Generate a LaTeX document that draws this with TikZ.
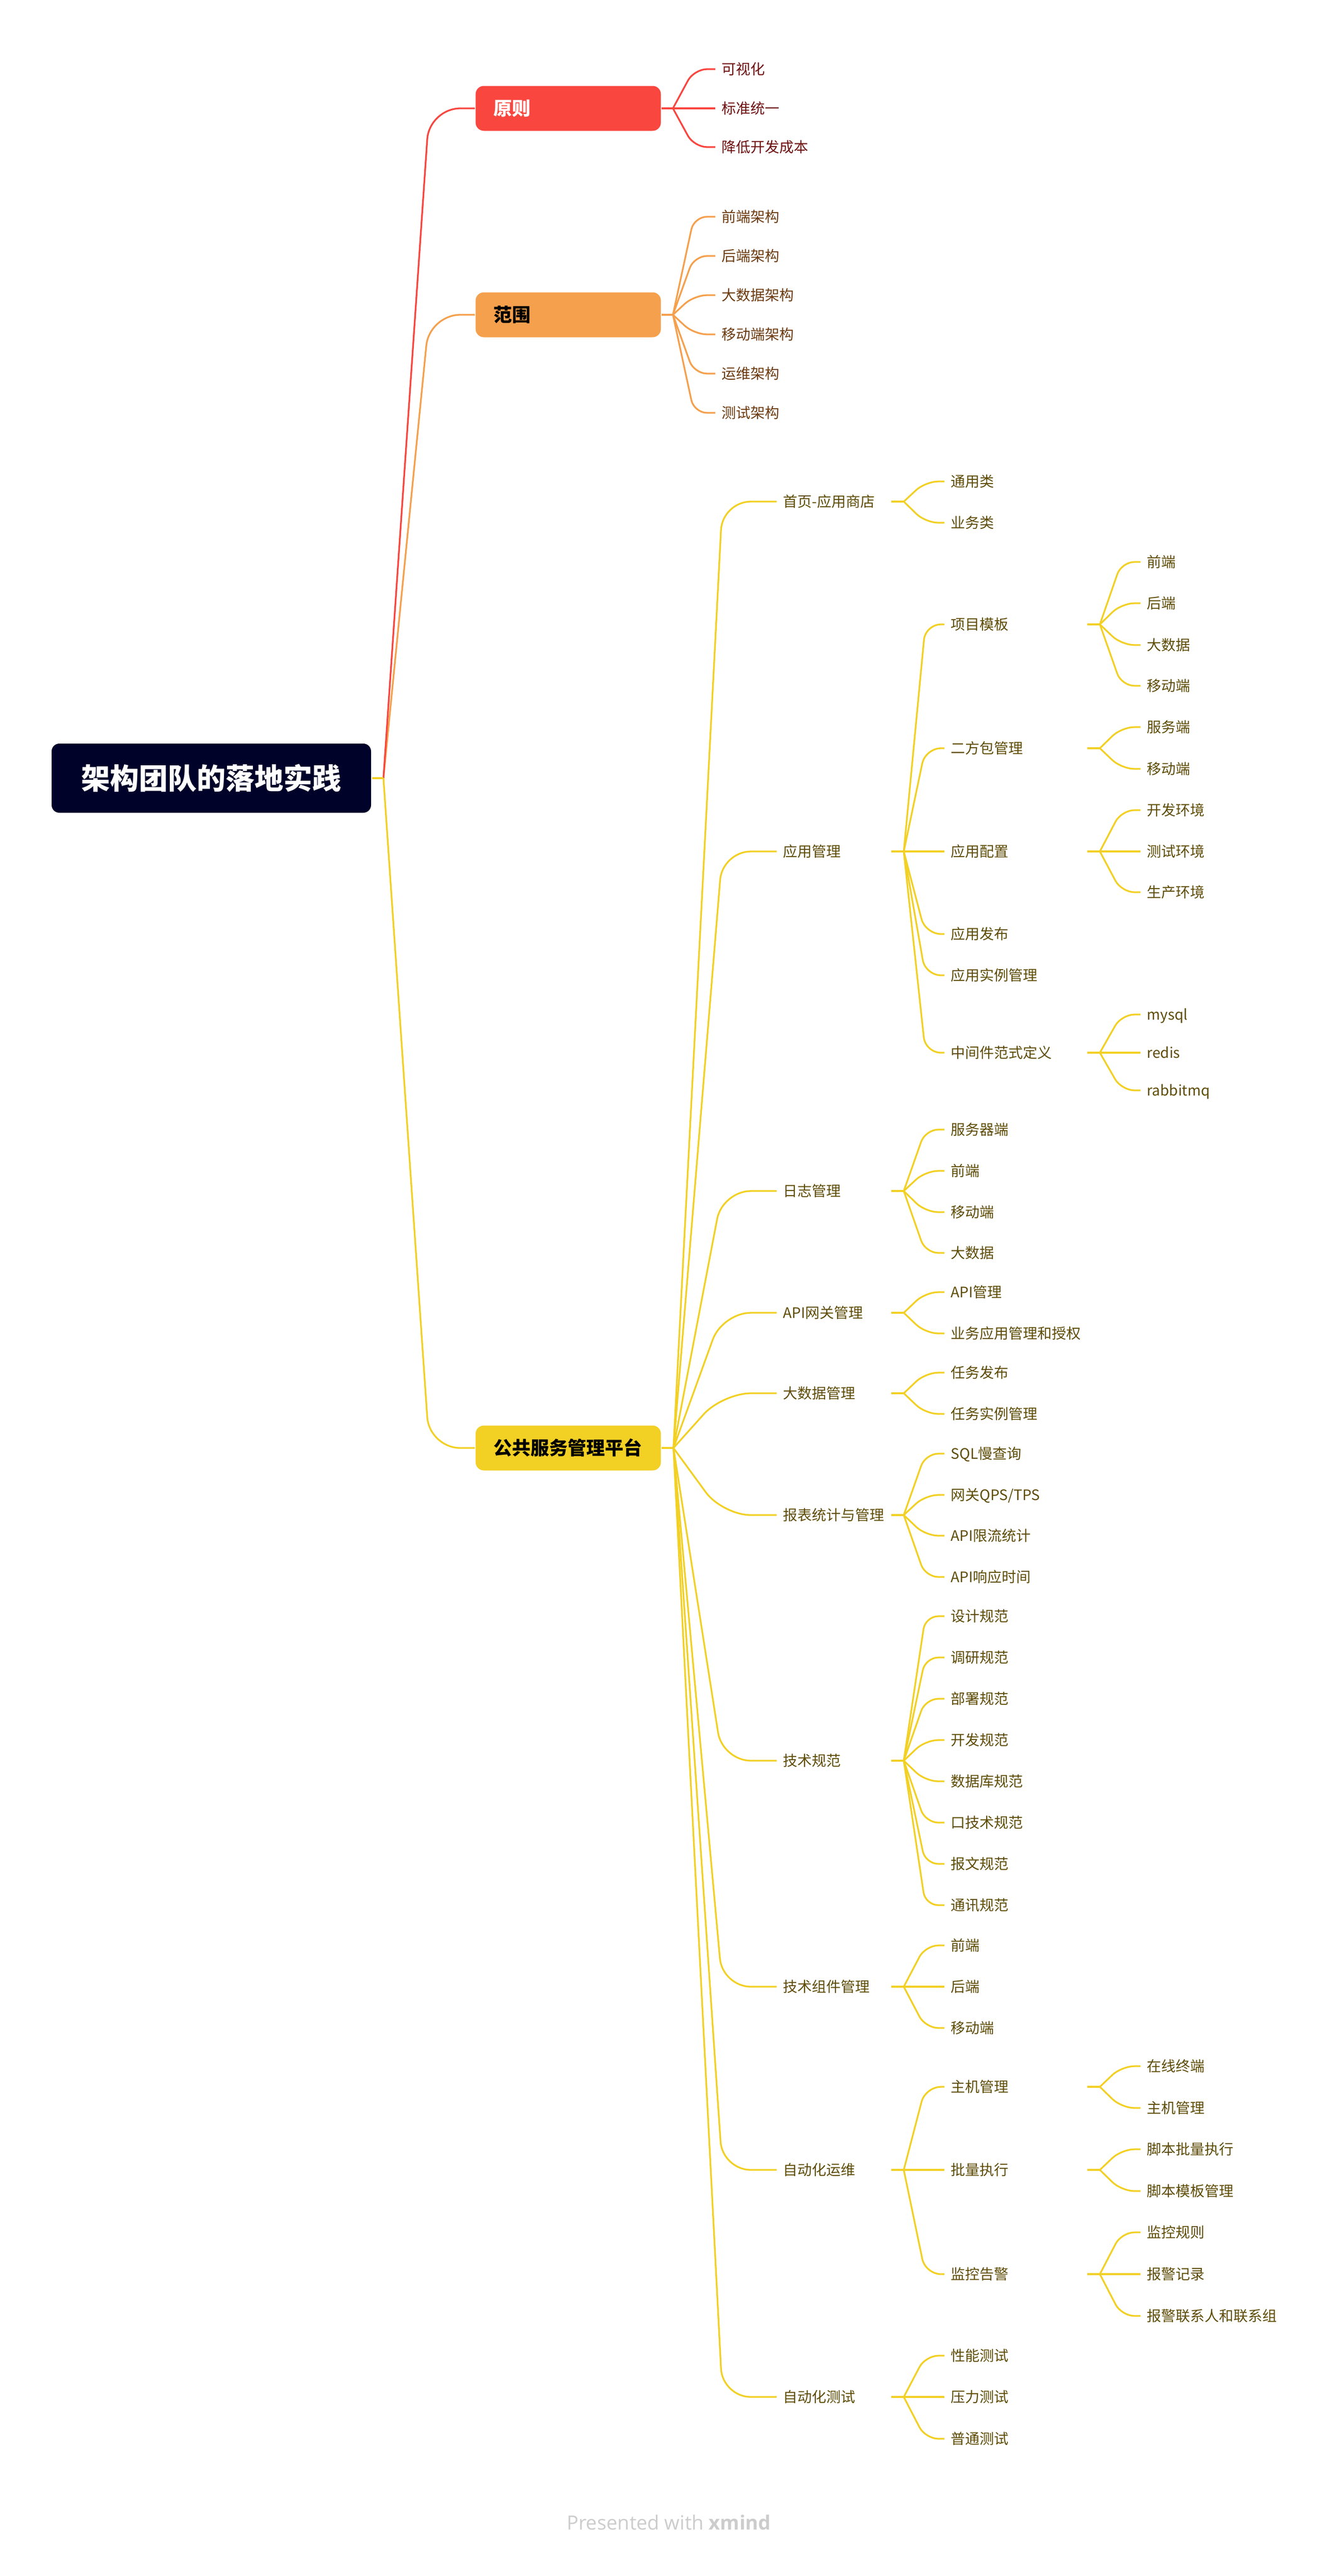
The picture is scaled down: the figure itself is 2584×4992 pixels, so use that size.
\documentclass[tikz,border=0pt]{standalone}
\usepackage{fontspec}
\newfontfamily\cjk{Noto Sans CJK SC}
\newfontfamily\footfont{Open Sans}
\usetikzlibrary{calc}
\definecolor{cRed}{HTML}{F9463F}
\definecolor{cOrange}{HTML}{F5A04D}
\definecolor{cYellow}{HTML}{F2D024}
\definecolor{cNavy}{HTML}{000229}
\definecolor{tRed}{HTML}{6E1010}
\definecolor{tOrange}{HTML}{6B3A0F}
\definecolor{tYellow}{HTML}{5E4C06}
\definecolor{cGrey}{HTML}{CCCCCC}
\newcommand\brn[4]{\draw[#1] (#2) -- (#3 |- #4.west) -- (#4.west);}
\begin{document}
\begin{tikzpicture}[x=1pt,y=-1pt,line width=3.3pt,
  rootbox/.style={fill=cNavy,rounded corners=15pt,minimum width=619pt,minimum height=134pt,inner sep=0pt,text=white,font=\cjk\bfseries\fontsize{56}{60}\selectfont,text height=47pt,text depth=4.4pt},
  topbox/.style={anchor=west,rounded corners=16pt,minimum height=87pt,text width=290pt,inner xsep=34.5pt,inner ysep=0pt,align=left,font=\cjk\bfseries\fontsize{36}{40}\selectfont,text height=30.2pt,text depth=2.8pt},
  leaf/.style={anchor=west,inner xsep=11pt,inner ysep=0pt,font=\cjk\fontsize{28}{32}\selectfont,text height=24pt,text depth=2.8pt},
  mid2/.style={leaf,text width=197pt,align=left},
  mid3/.style={leaf,text width=252pt,align=left},
  ly/.style={leaf,text=tYellow},
  ly2/.style={mid2,text=tYellow},
  ly3/.style={mid3,text=tYellow},
  wy/.style={cYellow,rounded corners=#1},
]
\fill[white] (0,0) rectangle (2584,4992);
\useasboundingbox (0,0) rectangle (2584,4992);

% root and level 1
\node[rootbox] (root) at (409.5,1508) {架构团队的落地实践};
\coordinate (F0) at (743,1508);
\coordinate (K0) at (832,1508);
\node[topbox,fill=cRed,text=white] (pa) at (920,210) {原则};
\node[topbox,fill=cOrange,text=black] (pb) at (920,610) {范围};
\node[topbox,fill=cYellow,text=black] (pc) at (920,2806) {公共服务管理平台};
\brn{cOrange,rounded corners=60pt}{F0}{K0}{pb}
\brn{cRed,rounded corners=60pt}{F0}{K0}{pa}
\brn{cYellow,rounded corners=60pt}{F0}{K0}{pc}
\draw[cYellow] (root.east) -- (F0);

% 原则
\coordinate (Fa) at (1304,210);
\coordinate (Ka) at (1345,210);
\draw[cRed] (pa.east) -- (Fa);
\node[leaf,text=tRed] (a1) at (1386,134) {可视化};
\node[leaf,text=tRed] (a2) at (1386,210) {标准统一};
\node[leaf,text=tRed] (a3) at (1386,285) {降低开发成本};
\foreach \n in {a1,a2,a3} {\brn{cRed,rounded corners=25pt}{Fa}{Ka}{\n}}

% 范围
\coordinate (Fb) at (1304,610);
\coordinate (Kb) at (1345,610);
\draw[cOrange] (pb.east) -- (Fb);
\node[leaf,text=tOrange] (b1) at (1386,420) {前端架构};
\node[leaf,text=tOrange] (b2) at (1386,496) {后端架构};
\node[leaf,text=tOrange] (b3) at (1386,572) {大数据架构};
\node[leaf,text=tOrange] (b4) at (1386,648) {移动端架构};
\node[leaf,text=tOrange] (b5) at (1386,724) {运维架构};
\node[leaf,text=tOrange] (b6) at (1386,800) {测试架构};
\foreach \n in {b1,b2,b3,b4,b5,b6} {\brn{cOrange,rounded corners=25pt}{Fb}{Kb}{\n}}

% 公共服务管理平台 level 2
\coordinate (Fc) at (1305,2806);
\coordinate (Kc) at (1400,2806);
\draw[cYellow] (pc.east) -- (Fc);
\node[ly2] (c1) at (1505,972) {首页-应用商店};
\node[ly2] (c2) at (1505,1650) {应用管理};
\node[ly2] (c3) at (1505,2308) {日志管理};
\node[ly2] (c4) at (1505,2544) {API网关管理};
\node[ly2] (c5) at (1505,2700) {大数据管理};
\node[ly2] (c6) at (1505,2936) {报表统计与管理};
\node[ly2] (c7) at (1505,3412) {技术规范};
\node[ly2] (c8) at (1505,3850) {技术组件管理};
\node[ly2] (c9) at (1505,4205) {自动化运维};
\node[ly2] (c10) at (1505,4645) {自动化测试};
\foreach \n in {c1,c2,c3,c4,c5,c6,c7,c8,c9,c10} {\brn{wy=55pt}{Fc}{Kc}{\n}}

% level 3 forks
\foreach \n in {c1,c2,c3,c4,c5,c6,c7,c8,c9,c10} {
  \coordinate (F\n) at ([xshift=24pt]\n.east);
  \coordinate (K\n) at ([xshift=66pt]\n.east);
  \draw[cYellow] (\n.east) -- (F\n);
}

% 首页-应用商店
\node[ly] (c1a) at (1830,933) {通用类};
\node[ly] (c1b) at (1830,1013) {业务类};
\foreach \n in {c1a,c1b} {\brn{wy=25pt}{Fc1}{Kc1}{\n}}

% 应用管理
\node[ly3] (c2a) at (1830,1210) {项目模板};
\node[ly3] (c2b) at (1830,1450) {二方包管理};
\node[ly3] (c2c) at (1830,1650) {应用配置};
\node[ly] (c2d) at (1830,1810) {应用发布};
\node[ly] (c2e) at (1830,1890) {应用实例管理};
\node[ly3] (c2f) at (1830,2040) {中间件范式定义};
\foreach \n in {c2a,c2b,c2c,c2d,c2e,c2f} {\brn{wy=30pt}{Fc2}{Kc2}{\n}}

% 日志管理
\node[ly] (c3a) at (1830,2189) {服务器端};
\node[ly] (c3b) at (1830,2269) {前端};
\node[ly] (c3c) at (1830,2349) {移动端};
\node[ly] (c3d) at (1830,2428) {大数据};
\foreach \n in {c3a,c3b,c3c,c3d} {\brn{wy=25pt}{Fc3}{Kc3}{\n}}

% API网关管理
\node[ly] (c4a) at (1830,2504) {API管理};
\node[ly] (c4b) at (1830,2584) {业务应用管理和授权};
\foreach \n in {c4a,c4b} {\brn{wy=25pt}{Fc4}{Kc4}{\n}}

% 大数据管理
\node[ly] (c5a) at (1830,2660) {任务发布};
\node[ly] (c5b) at (1830,2740) {任务实例管理};
\foreach \n in {c5a,c5b} {\brn{wy=25pt}{Fc5}{Kc5}{\n}}

% 报表统计与管理
\node[ly] (c6a) at (1830,2817) {SQL慢查询};
\node[ly] (c6b) at (1830,2897) {网关QPS/TPS};
\node[ly] (c6c) at (1830,2976) {API限流统计};
\node[ly] (c6d) at (1830,3056) {API响应时间};
\foreach \n in {c6a,c6b,c6c,c6d} {\brn{wy=25pt}{Fc6}{Kc6}{\n}}

% 技术规范
\node[ly] (c7a) at (1830,3132) {设计规范};
\node[ly] (c7b) at (1830,3212) {调研规范};
\node[ly] (c7c) at (1830,3292) {部署规范};
\node[ly] (c7d) at (1830,3372) {开发规范};
\node[ly] (c7e) at (1830,3452) {数据库规范};
\node[ly] (c7f) at (1830,3532) {口技术规范};
\node[ly] (c7g) at (1830,3612) {报文规范};
\node[ly] (c7h) at (1830,3692) {通讯规范};
\foreach \n in {c7a,c7b,c7c,c7d,c7e,c7f,c7g,c7h} {\brn{wy=25pt}{Fc7}{Kc7}{\n}}

% 技术组件管理
\node[ly] (c8a) at (1830,3770) {前端};
\node[ly] (c8b) at (1830,3850) {后端};
\node[ly] (c8c) at (1830,3930) {移动端};
\foreach \n in {c8a,c8b,c8c} {\brn{wy=25pt}{Fc8}{Kc8}{\n}}

% 自动化运维
\node[ly3] (c9a) at (1830,4044) {主机管理};
\node[ly3] (c9b) at (1830,4205) {批量执行};
\node[ly3] (c9c) at (1830,4407) {监控告警};
\foreach \n in {c9a,c9b,c9c} {\brn{wy=30pt}{Fc9}{Kc9}{\n}}

% 自动化测试
\node[ly] (c10a) at (1830,4565) {性能测试};
\node[ly] (c10b) at (1830,4645) {压力测试};
\node[ly] (c10c) at (1830,4726) {普通测试};
\foreach \n in {c10a,c10b,c10c} {\brn{wy=25pt}{Fc10}{Kc10}{\n}}

% level 4 forks
\foreach \n in {c2a,c2b,c2c,c2f,c9a,c9b,c9c} {
  \coordinate (F\n) at ([xshift=24pt]\n.east);
  \coordinate (K\n) at ([xshift=66pt]\n.east);
  \draw[cYellow] (\n.east) -- (F\n);
}

\node[ly] (d1) at (2210,1089) {前端};
\node[ly] (d2) at (2210,1169) {后端};
\node[ly] (d3) at (2210,1250) {大数据};
\node[ly] (d4) at (2210,1329) {移动端};
\foreach \n in {d1,d2,d3,d4} {\brn{wy=25pt}{Fc2a}{Kc2a}{\n}}

\node[ly] (d5) at (2210,1409) {服务端};
\node[ly] (d6) at (2210,1490) {移动端};
\foreach \n in {d5,d6} {\brn{wy=25pt}{Fc2b}{Kc2b}{\n}}

\node[ly] (d7) at (2210,1570) {开发环境};
\node[ly] (d8) at (2210,1650) {测试环境};
\node[ly] (d9) at (2210,1729) {生产环境};
\foreach \n in {d7,d8,d9} {\brn{wy=25pt}{Fc2c}{Kc2c}{\n}}

\node[ly] (d10) at (2210,1966) {mysql};
\node[ly] (d11) at (2210,2040) {redis};
\node[ly] (d12) at (2210,2113) {rabbitmq};
\foreach \n in {d10,d11,d12} {\brn{wy=25pt}{Fc2f}{Kc2f}{\n}}

\node[ly] (d13) at (2210,4004) {在线终端};
\node[ly] (d14) at (2210,4085) {主机管理};
\foreach \n in {d13,d14} {\brn{wy=25pt}{Fc9a}{Kc9a}{\n}}

\node[ly] (d15) at (2210,4165) {脚本批量执行};
\node[ly] (d16) at (2210,4246) {脚本模板管理};
\foreach \n in {d15,d16} {\brn{wy=25pt}{Fc9b}{Kc9b}{\n}}

\node[ly] (d17) at (2210,4326) {监控规则};
\node[ly] (d18) at (2210,4407) {报警记录};
\node[ly] (d19) at (2210,4488) {报警联系人和联系组};
\foreach \n in {d17,d18,d19} {\brn{wy=25pt}{Fc9c}{Kc9c}{\n}}

% footer
\node[font=\footfont\fontsize{38}{44}\selectfont,text=cGrey,anchor=base,inner sep=0pt] (foot) at (1296,4902) {Presented with \textbf{xmind}};
\end{tikzpicture}
\end{document}
